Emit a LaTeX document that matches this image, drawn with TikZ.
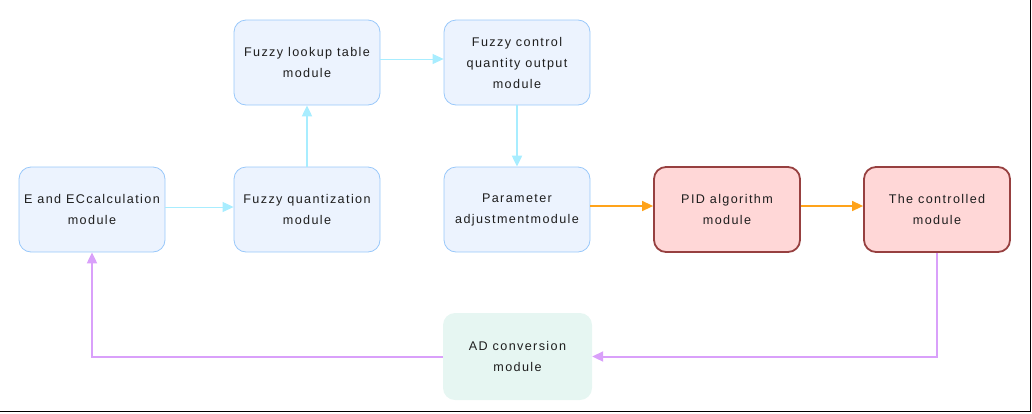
\documentclass[tikz,border=0pt]{standalone}
\usepackage{fontspec}
\setmainfont{Liberation Sans}[LetterSpace=11]
\usetikzlibrary{arrows.meta}
\definecolor{txt}{HTML}{1E1E1E}
\definecolor{bfill}{HTML}{ECF3FE}
\definecolor{bdraw}{HTML}{99C8FA}
\definecolor{rfill}{HTML}{FFD7D7}
\definecolor{rdraw}{HTML}{974040}
\definecolor{gfill}{HTML}{E6F6F2}
\definecolor{cyanl}{HTML}{A8EDFF}
\definecolor{orng}{HTML}{FFA31A}
\definecolor{purp}{HTML}{D9A0FA}
\tikzset{
  box/.style={rounded corners=12pt, minimum width=146pt, minimum height=85pt,
    align=center, text=txt, font=\fontsize{12.6}{21}\selectfont, inner sep=0pt},
  bluebox/.style={box, fill=bfill, draw=bdraw, line width=0.8pt},
  redbox/.style={box, fill=rfill, draw=rdraw, line width=1.8pt},
  greenbox/.style={box, fill=gfill, minimum width=149pt, minimum height=87pt},
  tip/.style={-{Triangle[length=11pt,width=10pt]}},
  cyanthin/.style={tip, draw=cyanl, line width=1pt},
  cyanthick/.style={tip, draw=cyanl, line width=2pt},
  orange/.style={tip, draw=orng, line width=1.5pt},
  purple/.style={tip, draw=purp, line width=2pt},
}
\begin{document}
\begin{tikzpicture}[x=1pt,y=-1pt]
\useasboundingbox (0,0) rectangle (1032,413);
\node[bluebox] (e) at (92,209.5) {E and ECcalculation\\module};
\node[bluebox] (fq) at (307,209.5) {Fuzzy quantization\\module};
\node[bluebox] (fl) at (307,62.5) {Fuzzy lookup table\\module};
\node[bluebox] (fc) at (517,62.5) {Fuzzy control\\quantity output\\module};
\node[bluebox] (pa) at (517,209.5) {Parameter\\adjustmentmodule};
\node[redbox] (pid) at (727,209.5) {PID algorithm\\module};
\node[redbox] (ct) at (937,209.5) {The controlled\\module};
\node[greenbox] (ad) at (517.5,356.5) {AD conversion\\module};
\draw[cyanthin] (e.east |- 0,207) -- (fq.west |- 0,207);
\draw[cyanthick] (fq.north) -- (fl.south);
\draw[cyanthin] (fl.east |- 0,59) -- (fc.west |- 0,59);
\draw[cyanthick] (fc.south) -- (pa.north);
\draw[orange] (pa.east |- 0,206) -- (pid.west |- 0,206);
\draw[orange] (pid.east |- 0,206) -- (ct.west |- 0,206);
\draw[purple] (ct.south) |- (ad.east);
\draw[purple] (ad.west) -| (e.south);
\draw[line width=1pt] (1030.5,0) -- (1030.5,412) (0,411.8) -- (1031,411.8);
\end{tikzpicture}
\end{document}
